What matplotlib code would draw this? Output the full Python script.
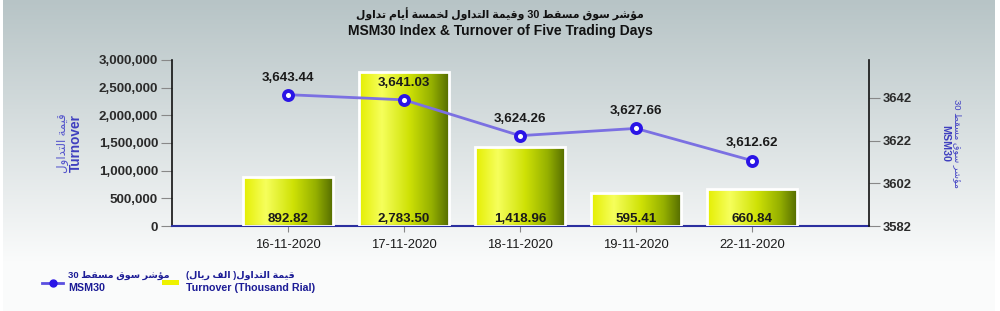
import re
import numpy as np
import matplotlib
matplotlib.use("Agg")
import matplotlib.pyplot as plt
from matplotlib.colors import LinearSegmentedColormap
from matplotlib.lines import Line2D
from matplotlib.patches import Rectangle

plt.rcParams['font.family'] = ['Liberation Sans', 'DejaVu Sans']

dates = ["16-11-2020", "17-11-2020", "18-11-2020", "19-11-2020", "22-11-2020"]
turnover = [892.82, 2783.50, 1418.96, 595.41, 660.84]      # thousand rial
msm30 = [3643.44, 3641.03, 3624.26, 3627.66, 3612.62]

# minimal arabic shaping (presentation forms) + visual reordering
FORMS = {
    'ا': ('\uFE8D', '\uFE8E', None, None),
    'أ': ('\uFE83', '\uFE84', None, None),
    'ؤ': ('\uFE85', '\uFE86', None, None),
    'ب': ('\uFE8F', '\uFE90', '\uFE91', '\uFE92'),
    'ة': ('\uFE93', '\uFE94', None, None),
    'ت': ('\uFE95', '\uFE96', '\uFE97', '\uFE98'),
    'خ': ('\uFEA5', '\uFEA6', '\uFEA7', '\uFEA8'),
    'د': ('\uFEA9', '\uFEAA', None, None),
    'ر': ('\uFEAD', '\uFEAE', None, None),
    'س': ('\uFEB1', '\uFEB2', '\uFEB3', '\uFEB4'),
    'ش': ('\uFEB5', '\uFEB6', '\uFEB7', '\uFEB8'),
    'ط': ('\uFEC1', '\uFEC2', '\uFEC3', '\uFEC4'),
    'ف': ('\uFED1', '\uFED2', '\uFED3', '\uFED4'),
    'ق': ('\uFED5', '\uFED6', '\uFED7', '\uFED8'),
    'ل': ('\uFEDD', '\uFEDE', '\uFEDF', '\uFEE0'),
    'م': ('\uFEE1', '\uFEE2', '\uFEE3', '\uFEE4'),
    'و': ('\uFEED', '\uFEEE', None, None),
    'ي': ('\uFEF1', '\uFEF2', '\uFEF3', '\uFEF4'),
}


def ar(s):
    out = []
    for i, c in enumerate(s):
        if c not in FORMS:
            out.append(c)
            continue
        f = FORMS[c]
        prev = s[i - 1] if i > 0 else ''
        nxt = s[i + 1] if i + 1 < len(s) else ''
        jp = prev in FORMS and FORMS[prev][2] is not None
        jn = f[2] is not None and nxt in FORMS
        if jp and jn:
            out.append(f[3])
        elif jp:
            out.append(f[1])
        elif jn:
            out.append(f[2])
        else:
            out.append(f[0])
    vis = ''.join(out)[::-1]
    vis = re.sub(r'[0-9]+', lambda m: m.group(0)[::-1], vis)
    return vis.translate(str.maketrans('()', ')('))


fig = plt.figure(figsize=(10, 3.11), dpi=100)
fig.patch.set_facecolor('white')

# background gradient
bg = fig.add_axes([0.003, 0, 0.992, 1], zorder=-10)
ys = np.linspace(0, 1, 311)
t = np.clip(ys / 0.84, 0, 1)
top = np.array([183, 196, 198]) / 255
bot = np.array([250, 251, 251]) / 255
col = top[None, :] * (1 - t[:, None]) + bot[None, :] * t[:, None]
bg.imshow(np.repeat(col[:, None, :], 2, axis=1), aspect='auto', extent=[0, 1, 0, 1])
bg.axis('off')

ax = fig.add_axes([0.172, 0.2733, 0.697, 0.534])
ax.patch.set_alpha(0)
x = np.arange(len(dates))

bar_cmap = LinearSegmentedColormap.from_list(
    'bar', [(0, '#e4ee00'), (0.25, '#f6ff5c'), (0.55, '#cfe206'),
            (0.8, '#95b000'), (1.0, '#526a00')])
grad = np.linspace(0, 1, 256)[None, :]
vals = np.array(turnover) * 1000
bars = ax.bar(x, vals, width=0.78, color='none', edgecolor='white', linewidth=2, zorder=3)
for b in bars:
    x0, y0 = b.get_xy()
    im = ax.imshow(grad, cmap=bar_cmap, extent=[x0, x0 + b.get_width(), y0, y0 + b.get_height()],
                   aspect='auto', zorder=2)
    im.set_clip_path(b)
for xi, v, lab in zip(x, vals, turnover):
    ax.annotate(f"{lab:,.2f}", (xi, 0), xytext=(0, 1), textcoords='offset points',
                ha='center', va='bottom', fontsize=9.6, fontweight='bold', color='#1a1a1a', zorder=5)

ax.set_xlim(-1, 5.01)
ax.set_ylim(0, 3000000)
ax.set_yticks(np.arange(0, 3000001, 500000))
ax.set_yticklabels([f"{v:,}" for v in range(0, 3000001, 500000)])
ax.set_xticks(x)
ax.set_xticklabels(dates)
ax.tick_params(axis='y', length=8, width=0.8, color='#888888', labelsize=9.6, labelcolor='#2a2a2a', pad=2)
ax.tick_params(axis='x', length=4, width=0.8, color='#888888', labelsize=9.4, labelcolor='#1a1a1a', pad=5)
for lbl in ax.get_yticklabels():
    lbl.set_fontweight('bold')
ax.spines['top'].set_visible(False)
ax.spines['right'].set_visible(False)
ax.spines['left'].set_color('#111111')
ax.spines['left'].set_linewidth(1.2)
ax.spines['bottom'].set_color('#2b2f9f')
ax.spines['bottom'].set_linewidth(1.5)

ax2 = ax.twinx()
ax2.patch.set_alpha(0)
ax2.plot(x, msm30, color='#7b70e2', linewidth=2, marker='o', markersize=6.5,
         markerfacecolor='white', markeredgecolor='#2a14e6', markeredgewidth=2.8, zorder=4)
for xi, v in zip(x, msm30):
    ax2.annotate(f"{v:,.2f}", (xi, v), xytext=(0, 8), textcoords='offset points',
                 ha='center', va='bottom', fontsize=9.6, fontweight='bold', color='#1a1a1a')
ax2.set_ylim(3582, 3659.7)
ax2.set_yticks([3582, 3602, 3622, 3642])
ax2.tick_params(axis='y', length=8, width=0.8, color='#888888', labelsize=9.4, labelcolor='#2a2a2a', pad=2)
for lbl in ax2.get_yticklabels():
    lbl.set_fontweight('bold')
for s in ['top', 'left', 'bottom']:
    ax2.spines[s].set_visible(False)
ax2.spines['right'].set_color('#111111')
ax2.spines['right'].set_linewidth(1.2)

# titles
fig.text(0.5, 1 - 14 / 311, ar("مؤشر سوق مسقط 30 وقيمة التداول لخمسة أيام تداول"),
         ha='center', va='center', fontsize=7.8, fontweight='bold', color='#111111')
fig.text(0.5, 1 - 31 / 311, "MSM30 Index & Turnover of Five Trading Days",
         ha='center', va='center', fontsize=10, fontweight='bold', color='#111111',
         family=['Liberation Sans Narrow', 'Liberation Sans'])

# axis titles
fig.text(0.063, 1 - 143 / 311, ar("قيمة التداول"), rotation=90, ha='center', va='center',
         fontsize=8.5, color='#5555cc')
fig.text(0.076, 1 - 143 / 311, "Turnover", rotation=90, ha='center', va='center',
         fontsize=9.8, fontweight='bold', color='#3f3fbf')
fig.text(0.957, 1 - 143 / 311, ar("مؤشر سوق مسقط 30"), rotation=270, ha='center', va='center',
         fontsize=6.8, color='#4444c4')
fig.text(0.945, 1 - 143 / 311, "MSM30", rotation=270, ha='center', va='center',
         fontsize=7.7, fontweight='bold', color='#3f3fbf')

# legend, laid out by hand
leg_y = 1 - 283 / 311
fig.add_artist(Line2D([0.042, 0.0525, 0.063], [leg_y, leg_y, leg_y], color='#5a4fe0', linewidth=2,
                      marker='o', markersize=5, markevery=[1],
                      markerfacecolor='#2a14e6', markeredgecolor='#2a14e6'))
fig.add_artist(Rectangle((0.162, 1 - 285 / 311), 0.017, 5 / 311, facecolor='#eef200', edgecolor='none'))
leg_col = '#1c1c96'
fig.text(0.068, 1 - 275 / 311, ar("مؤشر سوق مسقط 30"), ha='left', va='center',
         fontsize=6.8, fontweight='bold', color=leg_col)
fig.text(0.068, 1 - 288 / 311, "MSM30", ha='left', va='center',
         fontsize=7.7, fontweight='bold', color=leg_col)
fig.text(0.186, 1 - 275 / 311, ar("قيمة التداول( الف ريال)"), ha='left', va='center',
         fontsize=6.8, fontweight='bold', color=leg_col)
fig.text(0.186, 1 - 288 / 311, "Turnover (Thousand Rial)", ha='left', va='center',
         fontsize=7.7, fontweight='bold', color=leg_col)

fig.savefig('out.png', dpi=100)
